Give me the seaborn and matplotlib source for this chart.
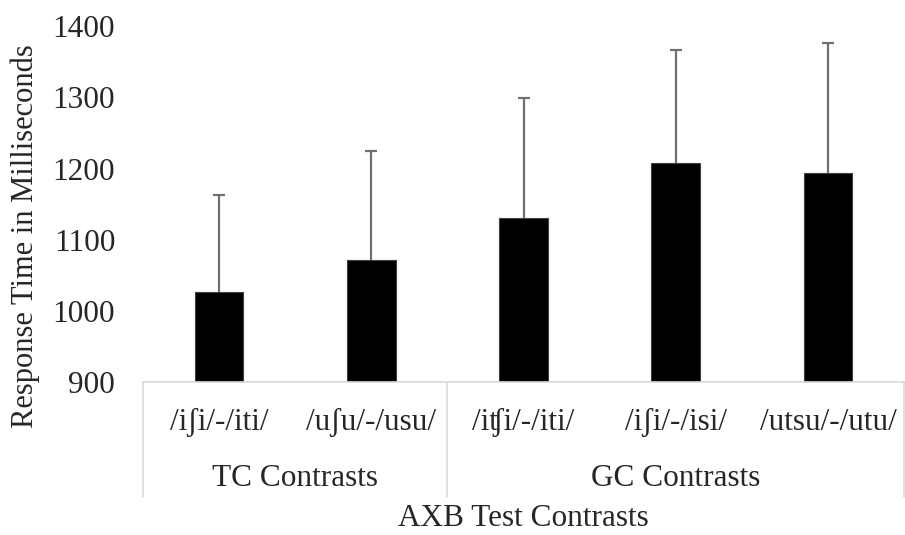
import pandas as pd
import numpy as np
import matplotlib
matplotlib.use("Agg")
import matplotlib.pyplot as plt
import seaborn as sns

# ---------------------------------------------------------------------------
# Data
# ---------------------------------------------------------------------------
contrasts = ["/iʃi/-/iti/", "/uʃu/-/usu/", "/iʧi/-/iti/", "/iʃi/-/isi/", "/utsu/-/utu/"]
groups = ["TC Contrasts", "TC Contrasts", "GC Contrasts", "GC Contrasts", "GC Contrasts"]
mean_rt = [1027, 1072, 1131, 1208, 1194]
sd_rt = [136, 153, 168, 158, 182]

df = pd.DataFrame({"contrast": contrasts, "group": groups, "rt": mean_rt, "sd": sd_rt})

sns.set_theme(style="white")
plt.rcParams["font.family"] = ["Liberation Serif", "DejaVu Serif"]
FS = 22.5

fig = plt.figure(figsize=(9.05, 5.35), dpi=100)
ax = fig.add_axes([0.158, 0.286, 0.841, 0.665])

sns.barplot(data=df, x="contrast", y="rt", color="black", width=0.32,
            edgecolor="#404040", linewidth=0.8, saturation=1, ax=ax)

# upper-only error bars, Excel style
x = np.arange(len(df))
_, caps, _ = ax.errorbar(x, df["rt"], yerr=[np.zeros(len(df)), df["sd"]], fmt="none",
                         ecolor="#707070", elinewidth=1.6, capsize=4.5, capthick=1.6)
caps[0].set_visible(False)  # no cap at the bar top

ax.set_ylim(900, 1400)
ax.set_xlim(-0.5, len(df) - 0.5)
ax.set_yticks(range(900, 1401, 100))
ax.tick_params(axis="y", length=0, pad=20, labelsize=FS)
ax.tick_params(axis="x", length=0, labelbottom=False)
ax.set_xlabel("")
ax.set_ylabel("Response Time in Milliseconds", fontsize=22)
ax.yaxis.set_label_coords(-0.135, 0.41)

for side in ["top", "right", "left"]:
    ax.spines[side].set_visible(False)
ax.spines["bottom"].set_color("#d9d9d9")
ax.spines["bottom"].set_linewidth(1.2)

# multi-level category axis
trans = ax.get_xaxis_transform()
for i, lab in enumerate(df["contrast"]):
    ax.text(i, -0.115, lab, transform=trans, ha="center", va="center", fontsize=FS)

group_names = list(dict.fromkeys(df["group"]))
edges = [-0.5]
for g in group_names:
    idx = np.where(df["group"] == g)[0]
    ax.text(idx.mean(), -0.27, g, transform=trans, ha="center", va="center", fontsize=FS)
    edges.append(idx.max() + 0.5)
for e in edges:
    ax.plot([e, e], [0, -0.323], transform=trans, color="#d9d9d9", lw=1.2, clip_on=False)

fig.text(0.578, 0.03, "AXB Test Contrasts", ha="center", va="center", fontsize=FS)

plt.savefig("out.png", dpi=100)
plt.close()
